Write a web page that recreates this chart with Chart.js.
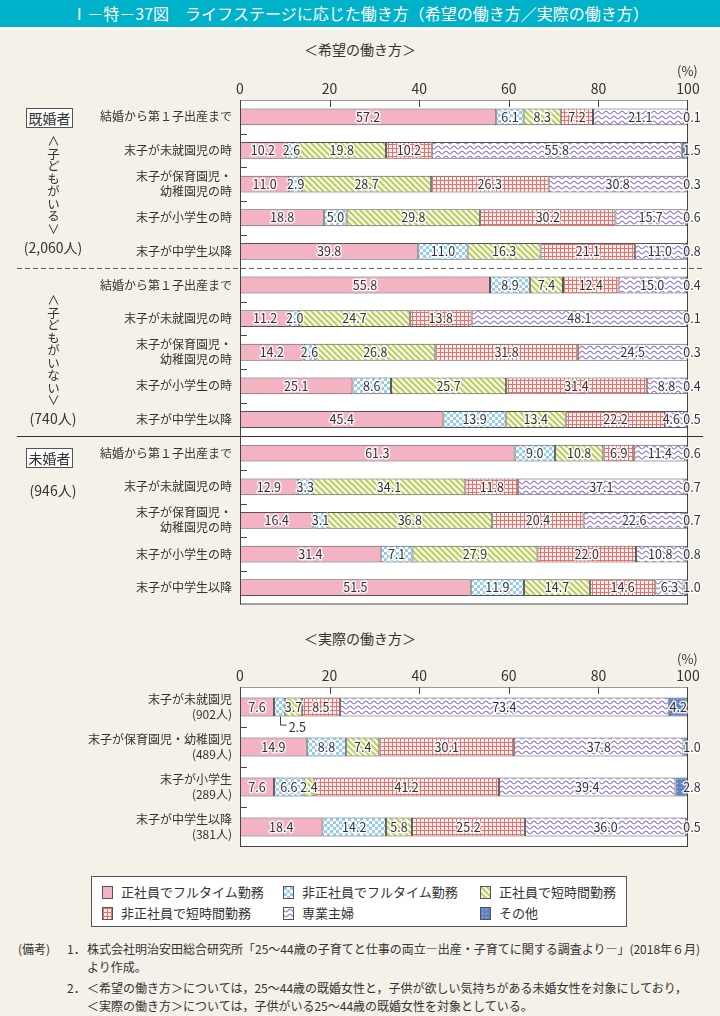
<!DOCTYPE html>
<html lang="ja">
<head>
<meta charset="utf-8">
<title>ライフステージに応じた働き方</title>
<script src="https://cdn.jsdelivr.net/npm/chart.js@4.4.1/dist/chart.umd.min.js"></script>
<style>
  body { margin: 0; background: #f4f1e8; }
  #page { position: relative; width: 720px; height: 1016px; overflow: hidden; font-family: "Noto Sans CJK JP", "Noto Sans", sans-serif; color: #333; }
  .abs { position: absolute; white-space: nowrap; }
  .chart { position: absolute; left: 0; }
  #title { left: 0; top: 0; width: 720px; height: 27px; line-height: 27px; background: #00b2c9; color: #fff; font-size: 16px; text-align: center; border-bottom: 3px solid #fff; }
  .sub { font-size: 14px; line-height: 20px; left: 260px; width: 200px; text-align: center; }
  .pct { font-size: 13px; line-height: 20px; left: 677px; }
  .tag { left: 26px; width: 45px; height: 18px; border: 1px solid #555; background: #fff; font-size: 14px; line-height: 18px; text-align: center; }
  .vert { writing-mode: vertical-rl; text-orientation: upright; font-size: 12.5px; line-height: 13px; left: 47px; }
  .cnt { font-size: 14px; line-height: 20px; left: 18px; width: 70px; text-align: center; }
  #legend { left: 91px; top: 876px; width: 534px; height: 49px; border: 1px solid #555; background: #fff; }
  .li { position: absolute; font-size: 13px; line-height: 18px; white-space: nowrap; }
  .li canvas { vertical-align: -2px; border: 1px solid #555; margin-right: 8px; }
  .note { font-size: 12px; line-height: 16px; }
</style>
</head>
<body>
<div id="page">
  <canvas id="hopeChart" class="chart" width="720" height="560" style="top:60px"></canvas>
  <canvas id="realChart" class="chart" width="720" height="220" style="top:650px"></canvas>

  <div id="title" class="abs">Ⅰ－特－37図　ライフステージに応じた働き方（希望の働き方／実際の働き方）</div>
  <div class="abs sub" style="top:39px">＜希望の働き方＞</div>
  <div class="abs pct" style="top:61px">(%)</div>
  <div class="abs sub" style="top:628px">＜実際の働き方＞</div>
  <div class="abs pct" style="top:649px">(%)</div>

  <div class="abs tag" style="top:108px">既婚者</div>
  <div class="abs vert" style="top:135px">∧子どもがいる∨</div>
  <div class="abs cnt" style="top:237px">(2,060人)</div>
  <div class="abs vert" style="top:294px">∧子どもがいない∨</div>
  <div class="abs cnt" style="top:408px">(740人)</div>
  <div class="abs tag" style="top:448px">未婚者</div>
  <div class="abs cnt" style="top:480px">(946人)</div>

  <div id="legend" class="abs"></div>

  <div class="abs note" style="left:18px;top:941px">(備考)</div>
  <div class="abs note" style="left:67px;top:941px">1．</div>
  <div class="abs note" style="left:87px;top:941px">株式会社明治安田総合研究所「25～44歳の子育てと仕事の両立―出産・子育てに関する調査より―」(2018年６月)</div>
  <div class="abs note" style="left:87px;top:959px">より作成。</div>
  <div class="abs note" style="left:67px;top:980px">2．</div>
  <div class="abs note" style="left:87px;top:980px">＜希望の働き方＞については，25～44歳の既婚女性と，子供が欲しい気持ちがある未婚女性を対象にしており，</div>
  <div class="abs note" style="left:87px;top:998px">＜実際の働き方＞については，子供がいる25～44歳の既婚女性を対象としている。</div>
</div>

<script>
// series (legend order)
var seriesNames = ['正社員でフルタイム勤務', '非正社員でフルタイム勤務', '正社員で短時間勤務', '非正社員で短時間勤務', '専業主婦', 'その他'];

// <希望の働き方>  既婚・子どもがいる / 既婚・子どもがいない / 未婚
var hopeLabels = [
  '結婚から第１子出産まで', '末子が未就園児の時', ['末子が保育園児・', '幼稚園児の時'], '末子が小学生の時', '末子が中学生以降',
  '結婚から第１子出産まで', '末子が未就園児の時', ['末子が保育園児・', '幼稚園児の時'], '末子が小学生の時', '末子が中学生以降',
  '結婚から第１子出産まで', '末子が未就園児の時', ['末子が保育園児・', '幼稚園児の時'], '末子が小学生の時', '末子が中学生以降'
];
var hopeFullTime  = [57.2, 10.2, 11.0, 18.8, 39.8, 55.8, 11.2, 14.2, 25.1, 45.4, 61.3, 12.9, 16.4, 31.4, 51.5];
var hopePartFull  = [6.1, 2.6, 2.9, 5.0, 11.0, 8.9, 2.0, 2.6, 8.6, 13.9, 9.0, 3.3, 3.1, 7.1, 11.9];
var hopeFullShort = [8.3, 19.8, 28.7, 29.8, 16.3, 7.4, 24.7, 26.8, 25.7, 13.4, 10.8, 34.1, 36.8, 27.9, 14.7];
var hopePartShort = [7.2, 10.2, 26.3, 30.2, 21.1, 12.4, 13.8, 31.8, 31.4, 22.2, 6.9, 11.8, 20.4, 22.0, 14.6];
var hopeHousewife = [21.1, 55.8, 30.8, 15.7, 11.0, 15.0, 48.1, 24.5, 8.8, 4.6, 11.4, 37.1, 22.6, 10.8, 6.3];
var hopeOther     = [0.1, 1.5, 0.3, 0.6, 0.8, 0.4, 0.1, 0.3, 0.4, 0.5, 0.6, 0.7, 0.7, 0.8, 1.0];

// <実際の働き方>
var realLabels = [['末子が未就園児', '(902人)'], ['末子が保育園児・幼稚園児', '(489人)'], ['末子が小学生', '(289人)'], ['末子が中学生以降', '(381人)']];
var realFullTime  = [7.6, 14.9, 7.6, 18.4];
var realPartFull  = [2.5, 8.8, 6.6, 14.2];
var realFullShort = [3.7, 7.4, 2.4, 5.8];
var realPartShort = [8.5, 30.1, 41.2, 25.2];
var realHousewife = [73.4, 37.8, 39.4, 36.0];
var realOther     = [4.2, 1.0, 2.8, 0.5];

var xTicks = [0, 20, 40, 60, 80, 100];

var FONT = '"Noto Sans CJK JP", "Noto Sans", sans-serif';

// hatch fills
function makeTile(w, h, draw) {
  var t = document.createElement('canvas');
  t.width = w; t.height = h;
  var g = t.getContext('2d');
  draw(g, w, h);
  return g.createPattern(t, 'repeat');
}

var fills = [
  '#f4b3c2',
  makeTile(6, 6, function (g) {
    g.fillStyle = '#fff'; g.fillRect(0, 0, 6, 6);
    g.fillStyle = '#93cdf0'; g.fillRect(0, 0, 3, 3); g.fillRect(3, 3, 3, 3);
  }),
  makeTile(6, 6, function (g) {
    g.fillStyle = '#fff'; g.fillRect(0, 0, 6, 6);
    g.strokeStyle = '#bfd163'; g.lineWidth = 2.3;
    g.beginPath();
    for (var k = -6; k <= 6; k += 6) { g.moveTo(k - 1, -1); g.lineTo(k + 7, 7); }
    g.stroke();
  }),
  makeTile(4, 4, function (g) {
    g.fillStyle = '#fff1f0'; g.fillRect(0, 0, 4, 4);
    g.fillStyle = '#ec6f69'; g.fillRect(0, 0, 4, 1); g.fillRect(0, 0, 1, 4);
  }),
  makeTile(8, 5, function (g) {
    g.fillStyle = '#fff'; g.fillRect(0, 0, 8, 5);
    g.strokeStyle = '#9c84d4'; g.lineWidth = 1.2;
    g.beginPath();
    for (var x = -1; x <= 9; x += 0.5) {
      var y = 2.5 + 1.3 * Math.sin(x / 8 * Math.PI * 2);
      if (x === -1) g.moveTo(x, y); else g.lineTo(x, y);
    }
    g.stroke();
  }),
  makeTile(4, 4, function (g) {
    g.fillStyle = '#6283c4'; g.fillRect(0, 0, 4, 4);
    g.fillStyle = '#a9bde6'; g.fillRect(1, 1, 1, 1);
  })
];

// frame, inside ticks, group rules, value labels
function makeDecor(conf) {
  return {
    id: 'decor',
    beforeDraw: function (chart) {
      var a = chart.chartArea, c = chart.ctx;
      c.save();
      c.fillStyle = '#fff';
      c.fillRect(a.left, a.top, a.right - a.left, a.bottom - a.top);
      c.restore();
    },
    afterDatasetsDraw: function (chart) {
      var c = chart.ctx, a = chart.chartArea, xs = chart.scales.x, ys = chart.scales.y;
      var n = chart.data.labels.length;
      c.save();
      c.lineWidth = 1;

      c.strokeStyle = '#9a9a9a';
      c.beginPath(); c.moveTo(a.left, a.top + 0.5); c.lineTo(a.right, a.top + 0.5); c.stroke();

      c.strokeStyle = '#444';
      c.beginPath();
      c.moveTo(a.left + 0.5, a.top); c.lineTo(a.left + 0.5, a.bottom);
      c.moveTo(a.right - 0.5, a.top); c.lineTo(a.right - 0.5, a.bottom);
      c.moveTo(a.left, a.bottom - 0.5); c.lineTo(a.right, a.bottom - 0.5);
      xTicks.slice(1, -1).forEach(function (v) {
        var x = Math.round(xs.getPixelForValue(v)) + 0.5;
        c.moveTo(x, a.top); c.lineTo(x, a.top + 7);
      });
      for (var i = 1; i < n; i++) {
        if (conf.breaks.indexOf(i) >= 0) continue;
        var yb = Math.round((ys.getPixelForValue(i - 1) + ys.getPixelForValue(i)) / 2) + 0.5;
        c.moveTo(a.left, yb); c.lineTo(a.left + 7, yb);
      }
      c.stroke();

      conf.breaks.forEach(function (i, k) {
        var y = Math.round((ys.getPixelForValue(i - 1) + ys.getPixelForValue(i)) / 2) + 0.5;
        c.strokeStyle = k === 0 ? '#666' : '#333';
        c.setLineDash(k === 0 ? [5, 3] : []);
        c.beginPath(); c.moveTo(17, y); c.lineTo(703, y); c.stroke();
      });
      c.setLineDash([]);

      // numbers
      c.font = '12.5px ' + FONT;
      c.textBaseline = 'middle';
      c.lineJoin = 'round';
      chart.data.datasets.forEach(function (ds, di) {
        chart.getDatasetMeta(di).data.forEach(function (bar, j) {
          var v = ds.data[j];
          var txt = v.toFixed(1);
          var x = (bar.x + bar.base) / 2, y = bar.y;
          c.textAlign = 'center';
          if (conf.callout && conf.callout[0] === di && conf.callout[1] === j) {
            // little leader line under the bar
            var yb = bar.y + bar.height / 2;
            c.lineWidth = 1;
            c.strokeStyle = '#444';
            c.beginPath(); c.moveTo(Math.round(x) + 0.5, yb); c.lineTo(Math.round(x) + 0.5, yb + 8.5); c.lineTo(x + 7, yb + 8.5); c.stroke();
            c.textAlign = 'left';
            c.fillStyle = '#333';
            c.fillText(txt, x + 9, yb + 11);
            return;
          }
          if (di === 5 && v < 3) x = a.right + 4;
          // keep 専業主婦 label clear of the その他 label sitting on the right edge
          if (di === 4 && chart.data.datasets[5].data[j] < 3) {
            x = Math.min(x, a.right - 8 - c.measureText(txt).width / 2);
          }
          c.strokeStyle = 'rgba(255,255,255,0.85)';
          c.lineWidth = 3;
          c.strokeText(txt, x, y);
          c.fillStyle = '#333';
          c.fillText(txt, x, y);
        });
      });
      c.restore();
    }
  };
}

function buildChart(canvasId, labels, values, conf) {
  var datasets = [];
  for (var i = 0; i < values.length; i++) {
    datasets.push({
      label: seriesNames[i],
      data: values[i],
      backgroundColor: fills[i],
      borderColor: '#555',
      borderWidth: 1,
      borderSkipped: false,
      barPercentage: conf.barPct,
      categoryPercentage: 1
    });
  }
  return new Chart(document.getElementById(canvasId).getContext('2d'), {
    type: 'bar',
    data: { labels: labels, datasets: datasets },
    options: {
      indexAxis: 'y',
      responsive: false,
      animation: false,
      layout: { padding: { top: conf.padTop, bottom: conf.padBottom, left: 0, right: 32 } },
      plugins: { legend: { display: false }, tooltip: { enabled: false } },
      scales: {
        x: {
          position: 'top', stacked: true, min: 0, max: 100,
          afterBuildTicks: function (s) { s.ticks = xTicks.map(function (v) { return { value: v }; }); },
          ticks: { padding: 3, color: '#333', font: { family: FONT, size: 14 } },
          grid: { display: false, drawTicks: false },
          border: { display: false },
          afterFit: function (s) { s.height = 30; }
        },
        y: {
          stacked: true,
          ticks: { padding: 8, color: '#333', autoSkip: false, font: { family: FONT, size: 12, lineHeight: 1.25 } },
          grid: { display: false, drawTicks: false },
          border: { display: false },
          afterFit: function (s) { s.width = 240; }
        }
      }
    },
    plugins: [makeDecor(conf)]
  });
}

var hopeChart = buildChart('hopeChart', hopeLabels,
  [hopeFullTime, hopePartFull, hopeFullShort, hopePartShort, hopeHousewife, hopeOther],
  { barPct: 0.5, padTop: 10, padBottom: 10, breaks: [5, 10] });

var realChart = buildChart('realChart', realLabels,
  [realFullTime, realPartFull, realFullShort, realPartShort, realHousewife, realOther],
  { barPct: 0.48, padTop: 7, padBottom: 7, breaks: [], callout: [1, 0] });

// legend, same fills as the bars
var legendPos = [[10, 6], [191, 6], [388, 6], [10, 27], [191, 27], [388, 27]];
var legendBox = document.getElementById('legend');
seriesNames.forEach(function (name, i) {
  var item = document.createElement('div');
  item.className = 'li';
  item.style.left = legendPos[i][0] + 'px';
  item.style.top = legendPos[i][1] + 'px';
  var sw = document.createElement('canvas');
  sw.width = 9; sw.height = 11;
  var g = sw.getContext('2d');
  g.fillStyle = fills[i];
  g.fillRect(0, 0, 9, 11);
  item.appendChild(sw);
  item.appendChild(document.createTextNode(name));
  legendBox.appendChild(item);
});
</script>
</body>
</html>
